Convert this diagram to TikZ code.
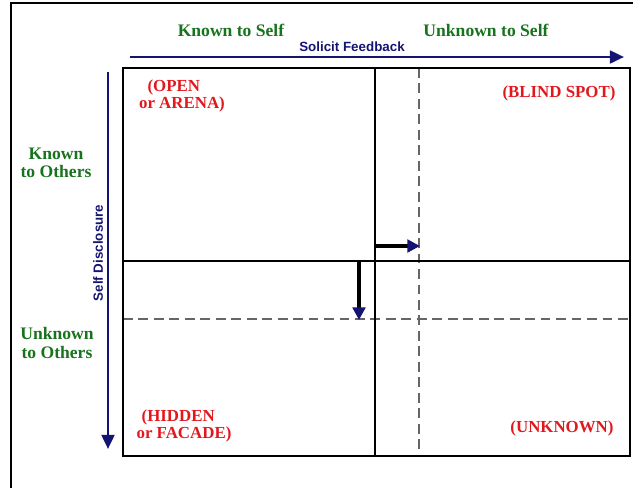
\documentclass[tikz,border=0pt]{standalone}
\usepackage{fontspec}
\setmainfont{Liberation Serif}
\newfontfamily\sanslabel{Liberation Sans}
\usetikzlibrary{arrows.meta}
\definecolor{headgreen}{RGB}{25,115,30}
\definecolor{areared}{RGB}{225,25,30}
\definecolor{arrownavy}{RGB}{20,20,115}
\tikzset{
  heading/.style={text=headgreen, font=\bfseries\fontsize{12.5}{13}\selectfont, align=center},
  area/.style={text=areared, font=\bfseries\fontsize{12}{12.5}\selectfont, align=left},
  axislabel/.style={text=arrownavy, font=\sanslabel\bfseries\fontsize{9.5}{10}\selectfont},
  axis/.style={draw=arrownavy, line width=2pt, -{Triangle[length=10pt,width=9pt]}},
  pane/.style={draw=black, line width=1.8pt},
  shifted/.style={draw=black!60, line width=2pt, dash pattern=on 7pt off 4pt},
  growarrow/.style={draw=black, line width=2.6pt, -{Triangle[length=9pt,width=9pt,color=arrownavy]}}
}
\begin{document}
\begin{tikzpicture}[x=0.025cm, y=-0.025cm]
    \useasboundingbox (0,0) rectangle (633,488);
    \draw[line width=1.2pt] (11,488) -- (11,3) -- (633,3);

% window corners
    \coordinate (NW) at (123,68);
    \coordinate (NE) at (630,68);
    \coordinate (SW) at (123,456);
    \coordinate (SE) at (630,456);
    \coordinate (MidN) at (375,68);
    \coordinate (MidS) at (375,456);
    \coordinate (MidW) at (123,261);
    \coordinate (MidE) at (630,261);
    \coordinate (DashN) at (419,68);
    \coordinate (DashS) at (419,456);
    \coordinate (DashW) at (123,319);
    \coordinate (DashE) at (630,319);

% shifted borders
    \draw[shifted] (DashN) -- (DashS);
    \draw[shifted] (DashW) -- (DashE);

% panes
    \draw[pane] (NW) rectangle (SE);
    \draw[pane] (MidN) -- (MidS);
    \draw[pane] (MidW) -- (MidE);

% growth arrows
    \coordinate (GrowR1) at (375,246);
    \coordinate (GrowR2) at (420,246);
    \coordinate (GrowD1) at (359,261);
    \coordinate (GrowD2) at (359,320);
    \draw[growarrow] (GrowR1) -- (GrowR2);
    \draw[growarrow] (GrowD1) -- (GrowD2);

% axes
    \coordinate (FeedA) at (130,57);
    \coordinate (FeedB) at (624,57);
    \coordinate (DiscA) at (108,72);
    \coordinate (DiscB) at (108,449);
    \draw[axis] (FeedA) -- (FeedB);
    \draw[axis] (DiscA) -- (DiscB);
    \node[axislabel] (feedback) at (352,47) {Solicit Feedback};
    \node[axislabel, rotate=90] (disclosure) at (98,253) {Self Disclosure};

% headings
    \node[heading] (knownself) at (231,30) {Known to Self};
    \node[heading] (unknownself) at (486,30) {Unknown to Self};
    \node[heading] (knownothers) at (56,163) {Known\\to Others};
    \node[heading] (unknownothers) at (57,343) {Unknown\\to Others};

% areas
    \node[area] (open) at (182,96) {\hspace*{0.5em}(OPEN\\or ARENA)};
    \node[area] (blind) at (559,93) {(BLIND SPOT)};
    \node[area] (hidden) at (184,426) {\hspace*{0.3em}(HIDDEN\\or FACADE)};
    \node[area] (unknown) at (562,428) {(UNKNOWN)};
\end{tikzpicture}
\end{document}
